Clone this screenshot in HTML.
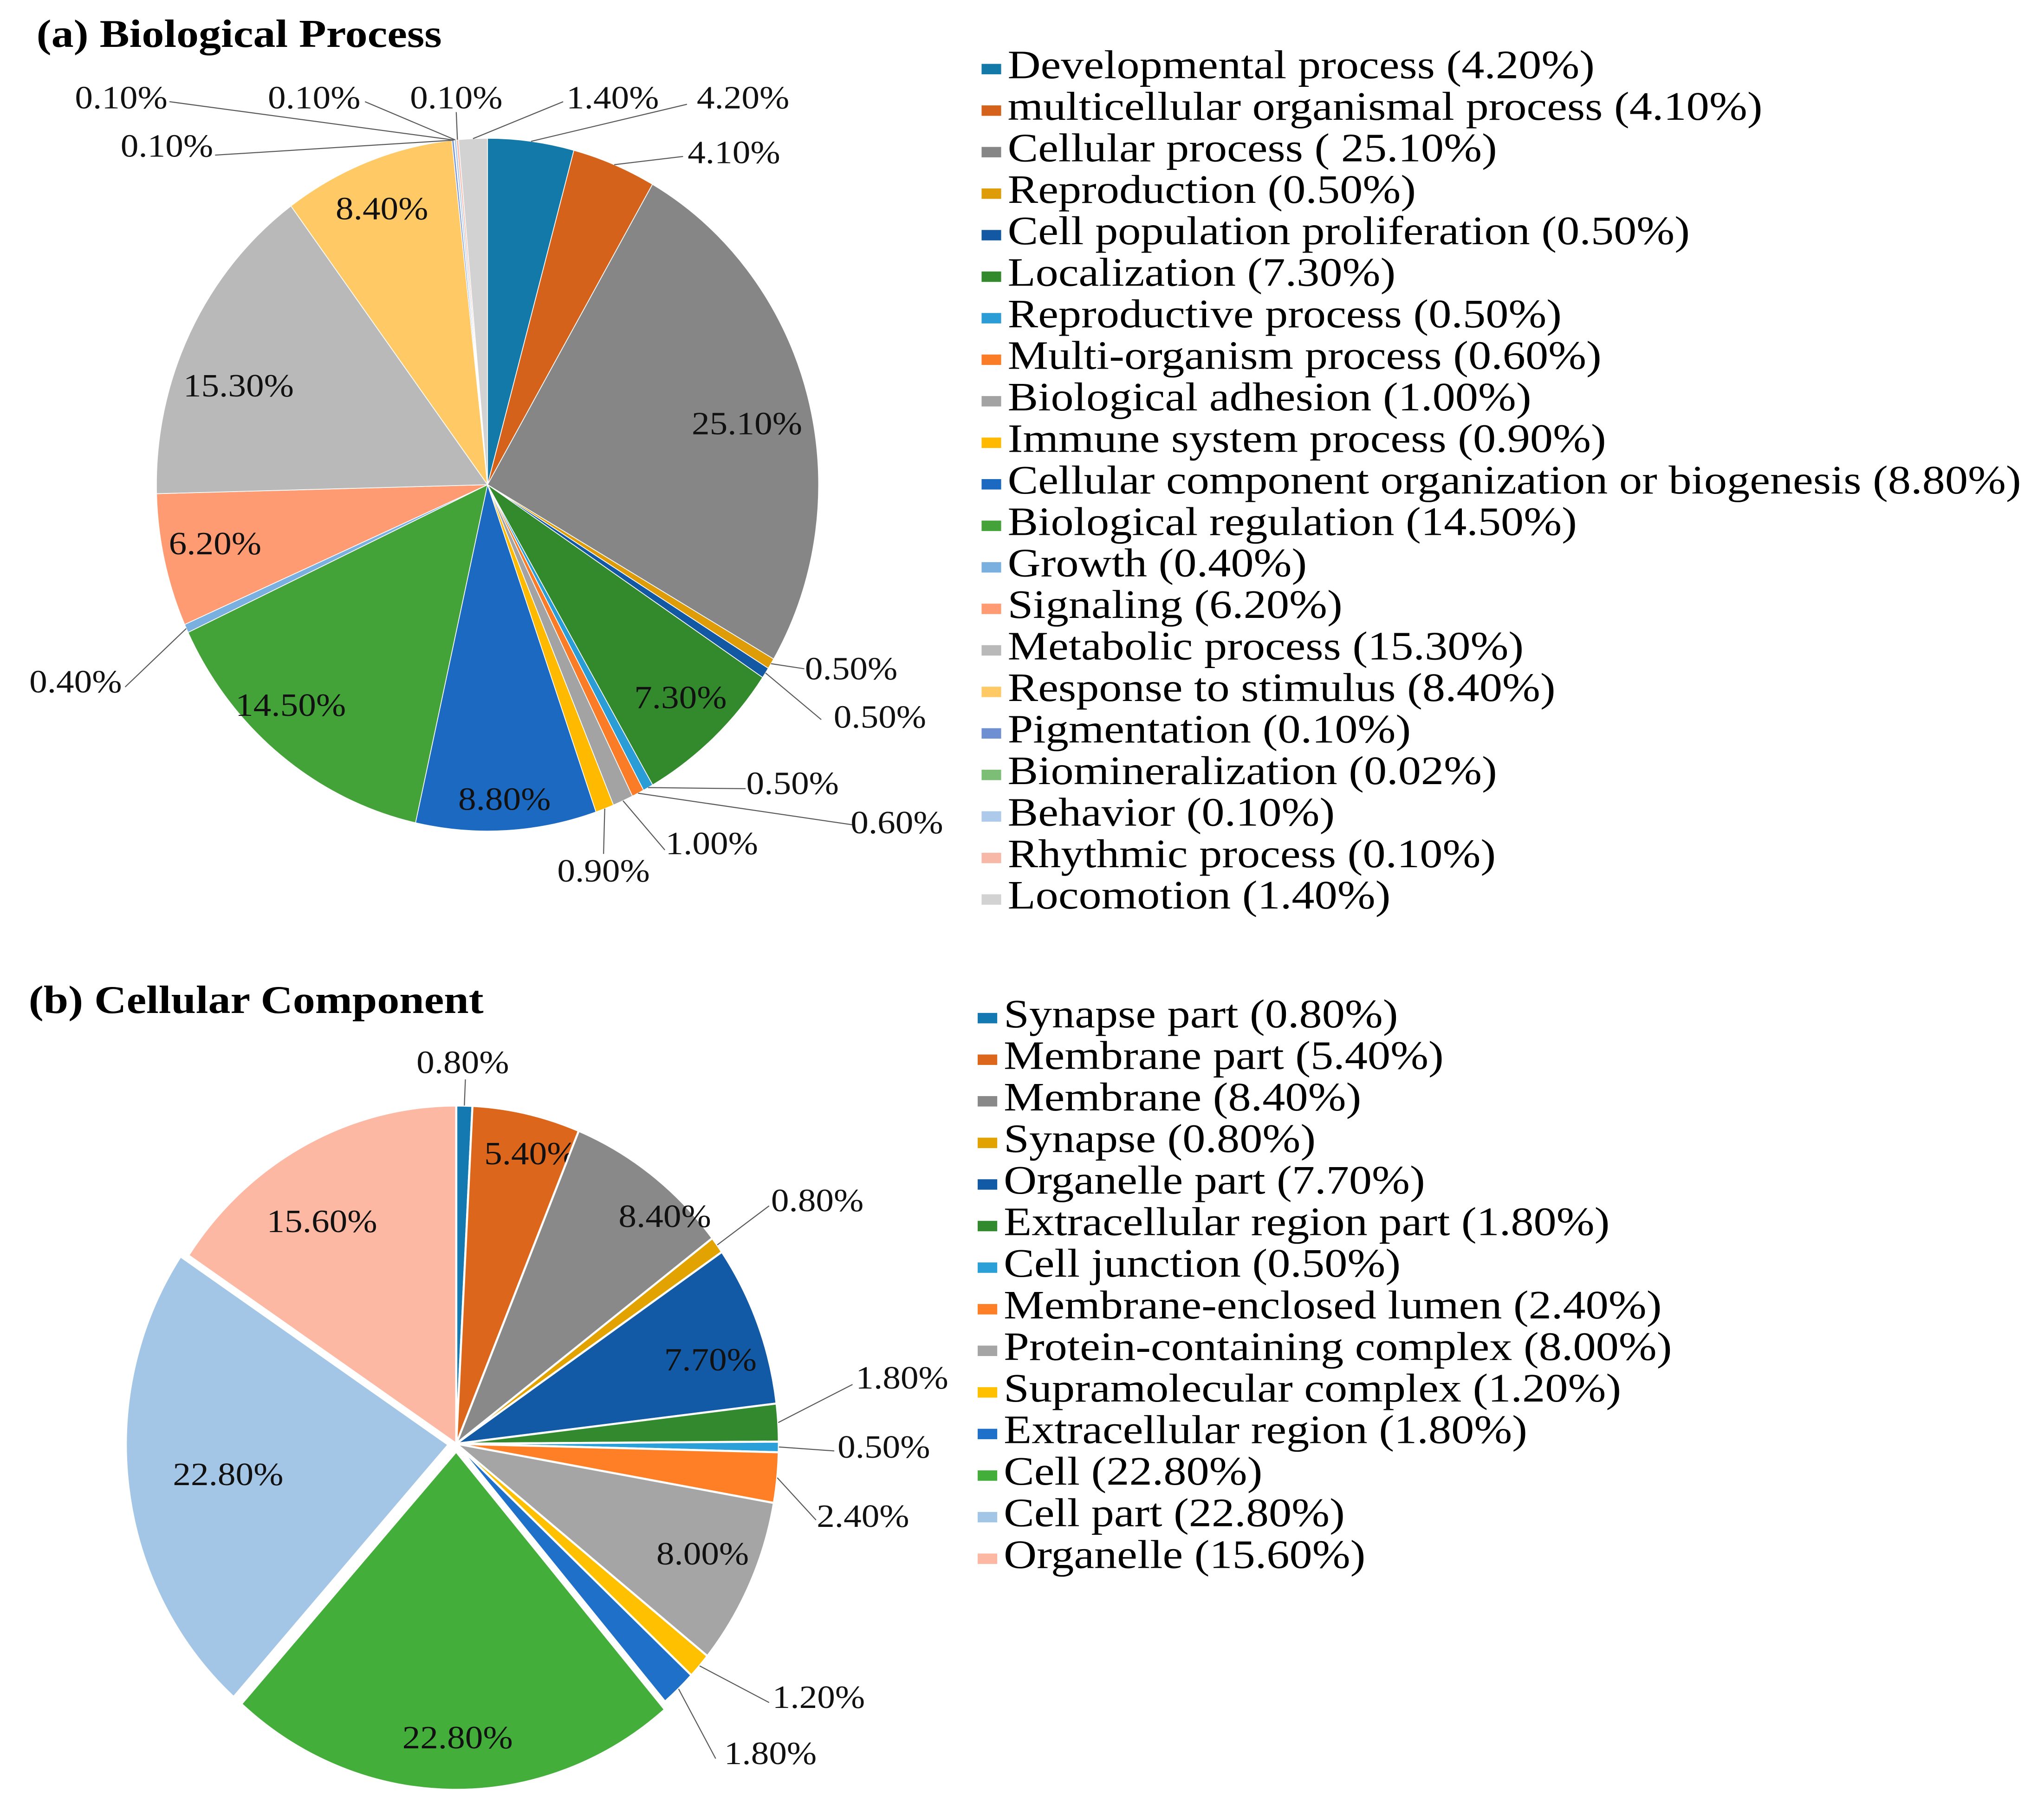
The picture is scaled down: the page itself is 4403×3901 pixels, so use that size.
<!DOCTYPE html>
<html><head><meta charset="utf-8"><style>
html,body{margin:0;padding:0;background:#fff;}
svg{display:block;font-family:"Liberation Serif",serif;}
</style></head><body>
<svg id="chart" width="4403" height="3901" viewBox="0 0 1568 1389.2" preserveAspectRatio="none" xmlns="http://www.w3.org/2000/svg">
<text id="tA" x="28" y="36" font-size="30" font-weight="bold">(a) Biological Process</text>
<text id="tB" x="22" y="777" font-size="30" font-weight="bold">(b) Cellular Component</text>
<g id="pieA"></g>
<g id="pieB"></g>
<g id="legA"></g>
<g id="legB"></g>
</svg>
<script>
// ---- data: (a) Biological Process ----
const bpCategories = ["Developmental process","multicellular organismal process","Cellular process","Reproduction","Cell population proliferation","Localization","Reproductive process","Multi-organism process","Biological adhesion","Immune system process","Cellular component organization or biogenesis","Biological regulation","Growth","Signaling","Metabolic process","Response to stimulus","Pigmentation","Biomineralization","Behavior","Rhythmic process","Locomotion"];
const bpValues = [4.2,4.1,25.1,0.5,0.5,7.3,0.5,0.6,1.0,0.9,8.8,14.5,0.4,6.2,15.3,8.4,0.1,0.02,0.1,0.1,1.4];
const bpLabels = ["4.20%","4.10%","25.10%","0.50%","0.50%","7.30%","0.50%","0.60%","1.00%","0.90%","8.80%","14.50%","0.40%","6.20%","15.30%","8.40%","0.10%","0.10%","0.10%","0.10%","1.40%"];
const bpLegendText = ["Developmental process (4.20%)","multicellular organismal process (4.10%)","Cellular process ( 25.10%)","Reproduction (0.50%)","Cell population proliferation (0.50%)","Localization (7.30%)","Reproductive process (0.50%)","Multi-organism process (0.60%)","Biological adhesion (1.00%)","Immune system process (0.90%)","Cellular component organization or biogenesis (8.80%)","Biological regulation (14.50%)","Growth (0.40%)","Signaling (6.20%)","Metabolic process (15.30%)","Response to stimulus (8.40%)","Pigmentation (0.10%)","Biomineralization (0.02%)","Behavior (0.10%)","Rhythmic process (0.10%)","Locomotion (1.40%)"];
// ---- data: (b) Cellular Component ----
const ccCategories = ["Synapse part","Membrane part","Membrane","Synapse","Organelle part","Extracellular region part","Cell junction","Membrane-enclosed lumen","Protein-containing complex","Supramolecular complex","Extracellular region","Cell","Cell part","Organelle"];
const ccValues = [0.8,5.4,8.4,0.8,7.7,1.8,0.5,2.4,8.0,1.2,1.8,22.8,22.8,15.6];
const ccLabels = ["0.80%","5.40%","8.40%","0.80%","7.70%","1.80%","0.50%","2.40%","8.00%","1.20%","1.80%","22.80%","22.80%","15.60%"];
const ccLegendText = ["Synapse part (0.80%)","Membrane part (5.40%)","Membrane (8.40%)","Synapse (0.80%)","Organelle part (7.70%)","Extracellular region part (1.80%)","Cell junction (0.50%)","Membrane-enclosed lumen (2.40%)","Protein-containing complex (8.00%)","Supramolecular complex (1.20%)","Extracellular region (1.80%)","Cell (22.80%)","Cell part (22.80%)","Organelle (15.60%)"];

// ---- styling / layout ----
const bpColors = ["#1279A9","#D5621A","#868686","#DE9D08","#1358A3","#328A2D","#2A9DD6","#FA7C26","#A3A3A3","#FFBA00","#1B69C0","#43A338","#79B0E0","#FE9B72","#B9B9B9","#FFCA66","#6E8FD2","#7DBE76","#ADCAEA","#F8B8A8","#D2D2D2"];
const ccColors = ["#1479B0","#DC661C","#898989","#E2A200","#125AA6","#338A2E","#2A9FD8","#FF7F27","#A5A5A5","#FFC000","#1F70C8","#44AE3B","#A3C6E6","#FDB8A3"];
const bpLabelPos = [[570,75,527,80],[563,117,524,120],[573,325],[653,513,617,513],[675,550,630,552],[522,535],[608,601,572,605],[688,631,656,633],[546,647,510,652],[463,668,463,655],[387,613],[223,541],[58,523,96,527],[165,417],[183,296],[293,160],[128,112,165,119],[93,75,130,78],[241,75,280,78],[350,75,350,86],[470,75,432,78]];
const ccLabelPos = [[355,815,357,828],[407,885],[510,933],[627,921,590,925],[545,1043],[692,1057,654,1062],[678,1110,640,1113],[662,1163,626,1166],[539,1192],[628,1302,590,1306],[591,1345,549,1349],[351,1333],[175,1131],[247,937]];
const ccExplode = [0,0,0,0,0,0,0,0,0,0,0,6,6,0];

const NS="http://www.w3.org/2000/svg";
function mk(tag,attrs,parent){const e=document.createElementNS(NS,tag);for(const k in attrs)e.setAttribute(k,attrs[k]);parent.appendChild(e);return e;}
function pt(cx,cy,rx,ry,a){return [cx+rx*Math.sin(a),cy-ry*Math.cos(a)];}
function stretch(t,f){try{const w=t.getComputedTextLength();t.setAttribute('textLength',w*f);t.setAttribute('lengthAdjust','spacingAndGlyphs');}catch(e){}}

function drawPie(g,vals,labels,cols,pos,cats,geo,explode,strokeW,prefix){
  const total=vals.reduce((s,v)=>s+v,0);
  let acc=0;
  vals.forEach((v,i)=>{
    const a0=acc/total*2*Math.PI; acc+=v; const a1=acc/total*2*Math.PI;
    const am=(a0+a1)/2; const ex=explode?explode[i]:0;
    const cx=geo.cx+ex*Math.sin(am), cy=geo.cy-ex*Math.cos(am);
    const p0=pt(cx,cy,geo.rx,geo.ry,a0), p1=pt(cx,cy,geo.rx,geo.ry,a1);
    const large=(a1-a0)>Math.PI?1:0;
    const path=mk('path',{d:`M${cx},${cy} L${p0[0]},${p0[1]} A${geo.rx},${geo.ry} 0 ${large} 1 ${p1[0]},${p1[1]} Z`,fill:cols[i],stroke:'#fff','stroke-width':strokeW,'stroke-linejoin':'round'},g);
    
    
    const p=pos[i];
    if(p && labels[i]){
      if(p.length>2){
        const e=pt(cx,cy,geo.rx,geo.ry,am);
        const ln=mk('line',{x1:e[0],y1:e[1],x2:p[2],y2:p[3],stroke:'#595959','stroke-width':0.8},g);
        
        
      }
      const t=mk('text',{x:p[0],y:p[1],'font-size':25,'text-anchor':'middle','dominant-baseline':'central',fill:'#111'},g);
      t.textContent=labels[i];
      
      
      stretch(t,1.1);
    }
  });
}
function drawLegend(g,texts,cols,mx,tx,y0,step,prefix){
  texts.forEach((s,i)=>{
    const y=y0+i*step;
    const r=mk('rect',{x:mx,y:y-11,width:15,height:8,fill:cols[i]},g);
    
    
    const t=mk('text',{x:tx,y:y,'font-size':31,fill:'#000'},g);
    t.textContent=s;
    
    
    stretch(t,1.13);
  });
}
drawPie(document.getElementById('pieA'),bpValues,bpLabels,bpColors,bpLabelPos,bpCategories,{cx:374,cy:371.8,rx:254,ry:265.7},null,0.6,'bp');
drawPie(document.getElementById('pieB'),ccValues,ccLabels,ccColors,ccLabelPos,ccCategories,{cx:350,cy:1107.5,rx:247.5,ry:259.5},ccExplode,1.6,'cc');
drawLegend(document.getElementById('legA'),bpLegendText,bpColors,753,773,60,31.85,'bp');
drawLegend(document.getElementById('legB'),ccLegendText,ccColors,750,770,788,31.9,'cc');
stretch(document.getElementById('tA'),1.14);
stretch(document.getElementById('tB'),1.14);
</script>
</body></html>
